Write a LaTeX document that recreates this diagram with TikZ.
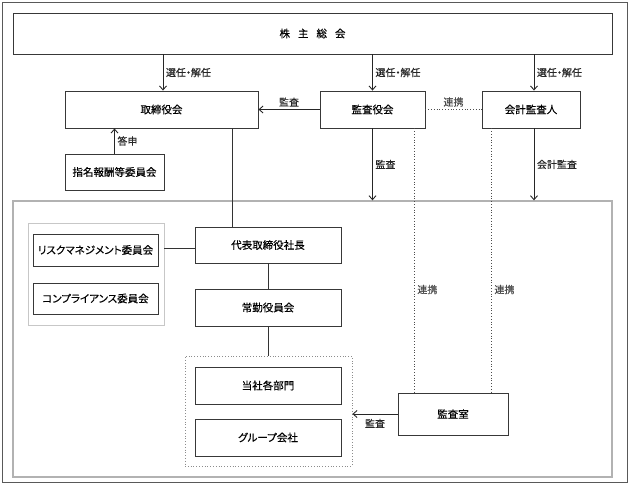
\documentclass[tikz,border=0pt]{standalone}
\usepackage{fontspec}
\setmainfont{Noto Sans CJK JP}[FakeBold=0.4,RawFeature=+palt]
\usetikzlibrary{arrows.meta}
\begin{document}
\begin{tikzpicture}[x=1pt,y=-1pt,
  font=\fontsize{10.5}{12}\selectfont,
  box/.style={draw=black!78,line width=0.9pt,rectangle,inner sep=0pt,fill=white},
  frm/.style={rectangle,inner sep=0pt},
  arr/.style={-{Straight Barb[length=4pt,width=7pt]},line width=0.9pt,black!85},
  ln/.style={line width=0.9pt,black!80},
  dotl/.style={line width=0.8pt,black!70,dotted},
  lbl/.style={inner sep=2.5pt,font=\fontsize{10}{11}\selectfont}]
\useasboundingbox (0,0) rectangle (630,484);
% frames
\node[frm,draw=black!65,line width=1pt,minimum width=624.5pt,minimum height=479.5pt] (outer) at (314.75,242.25) {};
\node[frm,draw=black!30,line width=1.3pt,minimum width=599pt,minimum height=276pt] (inner) at (312.5,339) {};
\node[frm,draw=black!22,line width=0.8pt,minimum width=136pt,minimum height=102pt] (rf) at (96,274) {};
\node[frm,draw=black!45,dotted,line width=0.8pt,minimum width=167pt,minimum height=110pt] (gf) at (268.5,411) {};
% boxes
\node[box,minimum width=599pt,minimum height=41pt] (sh) at (312.5,33.5) {株\hspace{8pt}主\hspace{8pt}総\hspace{8pt}会};
\node[box,minimum width=193pt,minimum height=37pt] (tori) at (161.5,109.5) {取締役会};
\node[box,minimum width=105pt,minimum height=37pt] (kansa) at (372.5,109.5) {監査役会};
\node[box,minimum width=98pt,minimum height=37pt] (kaikei) at (531,109.5) {会計監査人};
\node[box,minimum width=99pt,minimum height=36pt] (shimei) at (114.5,172) {指名報酬等委員会};
\node[box,minimum width=125pt,minimum height=32pt] (risk) at (95.5,250) {リスクマネジメント委員会};
\node[box,minimum width=125pt,minimum height=31pt] (comp) at (95.5,298.5) {コンプライアンス委員会};
\node[box,minimum width=146pt,minimum height=36pt] (daihyo) at (268,245) {代表取締役社長};
\node[box,minimum width=146pt,minimum height=37pt] (jokin) at (268,307.5) {常勤役員会};
\node[box,minimum width=146pt,minimum height=37pt] (tosha) at (268,385.5) {当社各部門};
\node[box,minimum width=146pt,minimum height=37pt] (grp) at (268,437.5) {グループ会社};
\node[box,minimum width=110pt,minimum height=42pt] (shitsu) at (453,414) {監査室};
% connectors
\draw[arr] ([xshift=1.5pt]tori.north |- sh.south) -- ([xshift=1.5pt]tori.north) node[lbl,midway,right] {選任・解任};
\draw[arr] (kansa.north |- sh.south) -- (kansa.north) node[lbl,midway,right] {選任・解任};
\draw[arr] ([xshift=3pt]kaikei.north |- sh.south) -- ([xshift=3pt]kaikei.north) node[lbl,midway,right] {選任・解任};
\draw[arr] (kansa.west) -- (tori.east) node[lbl,midway,above] {監査};
\draw[dotl] (kansa.east) -- (kaikei.west) node[lbl,midway,above] {連携};
\draw[arr] (shimei.north) -- (shimei.north |- tori.south) node[lbl,midway,right] {答申};
\draw[arr] (kansa.south) -- (kansa.south |- inner.north) node[lbl,midway,right] {監査};
\draw[arr] ([xshift=3pt]kaikei.south) -- ([xshift=3pt]kaikei.south |- inner.north) node[lbl,midway,right] {会計監査};
\draw[ln] ([xshift=-26pt]tori.south east) -- ([xshift=-26pt]tori.south east |- daihyo.north);
\draw[ln] ([yshift=-3pt]daihyo.west) -- ([yshift=-3pt]daihyo.west -| rf.east);
\draw[ln] (daihyo.south) -- (jokin.north);
\draw[ln] (jokin.south) -- (jokin.south |- gf.north);
\draw[dotl] ([xshift=-11pt]kansa.south east) -- ([xshift=-11pt]kansa.south east |- shitsu.north) node[lbl,pos=0.61,right] {連携};
\draw[dotl] ([xshift=10pt]kaikei.south west) -- ([xshift=10pt]kaikei.south west |- shitsu.north) node[lbl,pos=0.61,right] {連携};
\draw[arr] (shitsu.west) -- (shitsu.west -| gf.east) node[lbl,midway,below=2pt] {監査};
\end{tikzpicture}
\end{document}
